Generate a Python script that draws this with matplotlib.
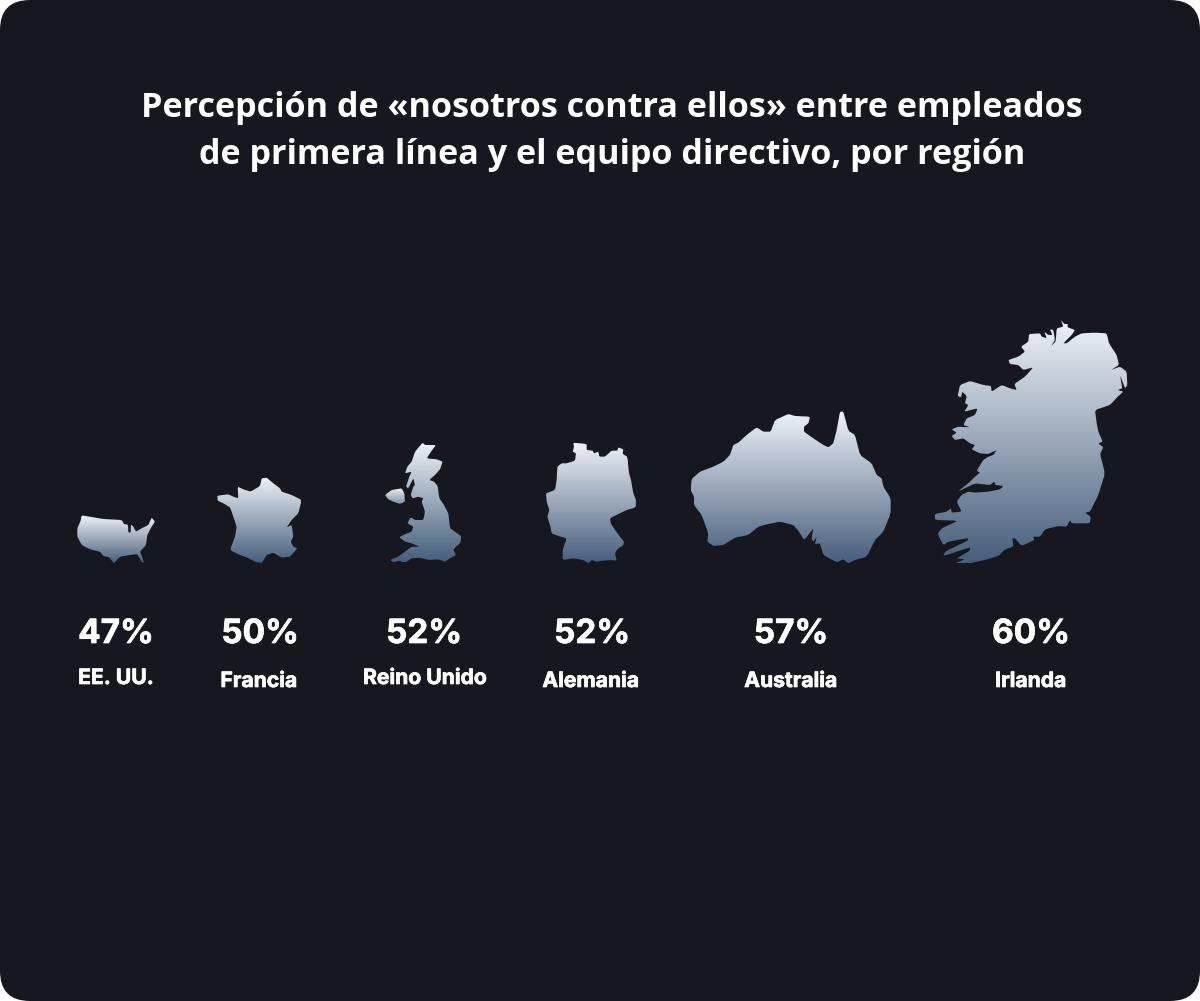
#!/usr/bin/env python3
"""Percepcion de nosotros contra ellos, country silhouettes with a vertical gradient."""
import numpy as np
import matplotlib.pyplot as plt
import matplotlib.patheffects as pe
from matplotlib.colors import LinearSegmentedColormap
from matplotlib.patches import FancyBboxPatch, Polygon

title_lines = ["Percepción de «nosotros contra ellos» entre empleados",
               "de primera línea y el equipo directivo, por región"]
countries = ["EE. UU.", "Francia", "Reino Unido", "Alemania", "Australia", "Irlanda"]
values = [47, 50, 52, 52, 57, 60]

# outlines at 3x, see origins below
usa = [(65,256),(100,262),(130,267),(185,270),(192,282),(204,284),(205,307),(212,308),(213,284),(220,290),(228,305),
       (245,295),(265,285),(275,263),(285,275),(272,295),(262,315),(258,345),(240,365),(252,397),(245,397),(232,372),
       (205,376),(180,380),(162,400),(148,382),(130,378),(120,365),(90,358),(65,345),(52,320),(52,295),(62,272)]
france = [(472,197),(505,193),(520,200),(535,205),(533,170),(550,178),(572,185),(600,168),(605,145),(620,143),(640,160),
          (660,175),(665,185),(695,195),(725,210),(715,250),(695,270),(680,292),(695,285),(700,320),(692,335),(700,350),
          (712,355),(690,380),(665,383),(640,368),(620,375),(605,400),(585,395),(560,382),(535,373),(510,360),(525,320),
          (530,290),(515,245),(510,232),(490,220),(473,212)]
britain = [(158,38),(165,45),(198,45),(185,62),(170,85),(200,88),(218,95),(210,118),(195,135),(178,150),(192,155),(203,168),
           (208,205),(222,225),(235,250),(240,295),(255,305),(275,320),(270,340),(258,350),(250,360),(258,375),(240,385),
           (225,395),(205,388),(175,390),(150,383),(125,385),(105,398),(85,392),(72,398),(60,390),(85,380),(105,365),
           (125,350),(148,350),(125,340),(105,335),(88,322),(100,315),(125,305),(130,290),(112,280),(122,262),(135,270),
           (160,270),(165,245),(155,215),(160,205),(145,200),(128,205),(122,195),(130,170),(135,165),(130,145),(115,175),
           (108,170),(118,140),(125,125),(105,130),(112,110),(125,95),(135,65)]
n_ireland = [(45,195),(65,180),(95,175),(103,190),(105,215),(90,222),(70,215),(55,208)]
germany = [(610,38),(650,42),(650,60),(668,62),(672,70),(685,65),(688,80),(705,80),(725,62),(742,62),(745,52),(760,58),
           (758,72),(772,80),(777,130),(783,150),(790,190),(798,210),(797,232),(770,240),(745,252),(720,265),(722,280),
           (735,300),(750,320),(762,335),(760,345),(742,358),(735,370),(740,392),(720,390),(700,392),(680,395),(665,390),
           (655,400),(640,390),(610,385),(578,390),(578,360),(590,325),(565,318),(545,310),(540,285),(532,260),(538,240),
           (530,215),(528,190),(555,180),(560,150),(562,110),(575,100),(590,100),(615,92),(618,70),(608,65),(612,50)]
australia = [(35,237),(60,215),(100,200),(130,185),(150,165),(160,135),(175,128),(200,105),(230,82),(250,95),(272,95),
             (285,60),(325,42),(345,48),(390,50),(385,70),(372,80),(372,95),(400,115),(430,135),(445,142),(460,130),
             (470,90),(480,35),(490,35),(505,92),(525,105),(540,165),(575,190),(590,225),(605,235),(610,260),(632,295),
             (632,340),(610,395),(585,420),(560,470),(525,480),(505,490),(490,478),(470,487),(430,465),(420,430),(405,432),
             (410,410),(400,425),(395,415),(400,385),(385,405),(372,420),(355,392),(340,375),(300,365),(265,372),(235,380),
             (205,405),(165,413),(130,435),(100,438),(82,425),(85,400),(65,345),(42,315),(42,290),(32,270)]
ireland = [(408,30),(418,42),(428,42),(428,52),(450,60),(440,75),(415,100),(425,100),(450,80),(470,70),(510,68),(545,70),
           (552,100),(575,135),(582,165),(558,180),(585,170),(605,185),(607,225),(600,235),(585,195),(592,235),(578,240),
           (595,245),(580,258),(555,285),(510,300),(515,340),(520,365),(533,395),(520,400),(535,412),(525,432),(540,490),
           (520,555),(495,605),(480,608),(497,620),(495,640),(440,640),(435,630),(425,650),(400,648),(360,658),(345,680),
           (325,680),(328,690),(290,708),(270,685),(262,685),(265,710),(240,718),(220,738),(180,750),(155,755),(135,760),
           (88,760),(120,748),(95,745),(135,722),(135,712),(55,738),(60,725),(128,692),(130,684),(70,695),(55,705),(38,672),
           (50,655),(100,632),(30,630),(30,612),(65,605),(78,595),(80,608),(110,605),(95,575),(110,555),(130,545),(150,548),
           (190,545),(225,538),(235,528),(212,525),(208,515),(195,525),(150,520),(98,545),(130,520),(150,500),(165,488),
           (155,482),(175,450),(190,440),(205,435),(215,420),(190,432),(165,430),(140,418),(150,405),(135,400),(115,385),
           (90,390),(80,378),(95,368),(80,358),(100,350),(135,352),(115,345),(125,325),(150,315),(158,295),(118,305),
           (130,285),(120,280),(125,258),(112,245),(108,262),(98,258),(105,225),(135,213),(175,225),(198,228),(200,245),
           (230,225),(255,235),(275,240),(268,222),(300,200),(325,172),(295,180),(280,165),(255,162),(250,150),(280,140),
           (300,125),(288,110),(310,95),(312,72),(345,70),(350,80),(365,85),(358,65),(370,75),(382,75),(375,58),(385,60),
           (390,90),(378,108),(392,95),(395,55),(415,50)]

BG = "#17181f"
TOP = "#eef2f8"
BOTTOM = "#465e7c"
WIDTH, HEIGHT = 1200, 1001

fig = plt.figure(figsize=(WIDTH / 100, HEIGHT / 100), dpi=100, facecolor="white")
ax = fig.add_axes([0, 0, 1, 1])
ax.axis("off")

ax.add_patch(FancyBboxPatch((30, 30), WIDTH - 60, HEIGHT - 60, boxstyle="round,pad=30,rounding_size=30",
                            fc=BG, ec="none"))


def soften(pts):
    """One pass of corner cutting so the traced coasts look less angular"""
    nxt = np.roll(pts, -1, axis=0)
    out = np.empty((len(pts) * 2, 2))
    out[0::2] = 0.88 * pts + 0.12 * nxt
    out[1::2] = 0.12 * pts + 0.88 * nxt
    return out


def draw_shape(outline, origin, end_color=BOTTOM):
    """Put a gradient inside one traced outline"""
    pts = soften(np.array(outline) / 3.0 + origin)
    x0, x1 = pts[:, 0].min(), pts[:, 0].max()
    y0, y1 = pts[:, 1].min(), pts[:, 1].max()
    cmap = LinearSegmentedColormap.from_list("fade", [TOP, end_color])
    im = ax.imshow(np.linspace(0, 1, 256).reshape(-1, 1), cmap=cmap, aspect="auto",
                   extent=(x0, x1, y1, y0), interpolation="bilinear", zorder=2)
    patch = Polygon(pts, closed=True, fc="none", ec="none", transform=ax.transData)
    ax.add_patch(patch)
    im.set_clip_path(patch)


draw_shape(usa, (60, 430))
draw_shape(france, (60, 430))
draw_shape(britain, (370, 430))
draw_shape(n_ireland, (370, 430), "#7d8ea3")
draw_shape(germany, (370, 430))
draw_shape(australia, (680, 400))
draw_shape(ireland, (925, 310))

ax.set_xlim(0, WIDTH)
ax.set_ylim(HEIGHT, 0)

for line, y in zip(title_lines, [108, 155]):
    ax.text(612, y, line, color="white", fontsize=24.6, fontweight="bold", family="Open Sans",
            ha="center", va="center")

value_x = [116, 260, 424, 592, 791, 1031]
name_x = [116, 259, 425, 591, 791, 1031]
name_y = [678, 681, 678, 681, 681, 681]
heavier = [pe.withStroke(linewidth=0.5, foreground="white")]
for i in range(len(countries)):
    ax.text(value_x[i], 634, f"{values[i]}%", color="white", fontsize=24, fontweight="bold", family="Inter",
            ha="center", va="center", path_effects=heavier)
    ax.text(name_x[i], name_y[i], countries[i], color="white", fontsize=15.2, fontweight="bold", family="Inter",
            ha="center", va="center", path_effects=heavier)

fig.savefig("out.png", dpi=100, facecolor="white")
